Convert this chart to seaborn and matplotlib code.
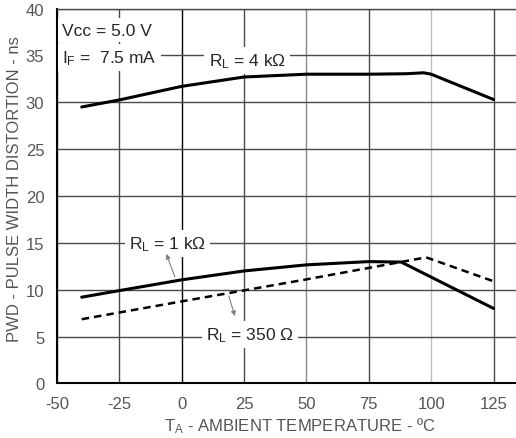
import matplotlib
matplotlib.use("Agg")
import matplotlib.pyplot as plt
import seaborn as sns

# PWD vs ambient temperature, three load resistors
temp_4k = [-40, -25, 0, 25, 50, 75, 90, 97, 100, 125]
pwd_4k = [29.5, 30.25, 31.7, 32.7, 33.0, 33.0, 33.05, 33.15, 33.0, 30.3]

temp_1k = [-40, -25, 0, 25, 50, 75, 88, 125]
pwd_1k = [9.2, 9.9, 11.05, 12.0, 12.65, 13.0, 12.95, 8.0]

temp_350 = [-40, 0, 50, 98, 125]
pwd_350 = [6.85, 8.75, 11.1, 13.45, 10.9]

x_ticks = [-50, -25, 0, 25, 50, 75, 100, 125]
y_ticks = [0, 5, 10, 15, 20, 25, 30, 35, 40]

sns.set_style("white")
plt.rcParams['font.family'] = ['Liberation Sans', 'DejaVu Sans']
plt.rcParams['mathtext.default'] = 'regular'
plt.rcParams['axes.unicode_minus'] = False

fig = plt.figure(figsize=(5.16, 4.39), dpi=100)
ax = fig.add_axes([0.110, 0.1244, 0.89, 0.8537])

sns.lineplot(x=temp_4k, y=pwd_4k, ax=ax, color='black', lw=2.2, zorder=4)
sns.lineplot(x=temp_1k, y=pwd_1k, ax=ax, color='black', lw=2.2, zorder=4)
sns.lineplot(x=temp_350, y=pwd_350, ax=ax, color='black', lw=1.8, zorder=4,
             linestyle=(0, (3, 2)))

ax.set_xlim(-50, 134)
ax.set_ylim(0, 40)
ax.set_xticks(x_ticks)
ax.set_yticks(y_ticks)

# grid, with the odd per-line shades of the original
ax.grid(True, color='#4a4a4a', lw=1.0)
ax.set_axisbelow(True)
vshade = {0: 'black', 50: '#8a8a8a', 100: '#bdbdbd'}
for t, gl in zip(x_ticks, ax.get_xgridlines()):
    gl.set_color(vshade.get(t, '#4a4a4a'))

ax.spines['right'].set_visible(False)
ax.spines['top'].set_color('#4a4a4a')
ax.spines['top'].set_linewidth(1.0)
for s in ['left', 'bottom']:
    ax.spines[s].set_color('black')
    ax.spines[s].set_linewidth(1.5)

ax.tick_params(length=0, labelsize=12, labelcolor='#555555', pad=9)
ax.set_xlabel('T$_A$ - AMBIENT TEMPERATURE - ºC', fontsize=12, color='#555555')
ax.xaxis.set_label_coords(0.53, -0.085)
ax.set_ylabel('PWD - PULSE WIDTH DISTORTION - ns', fontsize=12, color='#555555')
ax.yaxis.set_label_coords(-0.075, 0.52)

box = dict(facecolor='white', edgecolor='none', pad=3)
ax.text(-47.8, 37.7, 'Vcc = 5.0 V', fontsize=12.5, va='center', ha='left', bbox=box, zorder=3)
ax.text(-47.8, 34.8, 'I$_F$ =  7.5 mA', fontsize=12.5, va='center', ha='left', bbox=box, zorder=3)
ax.text(26.3, 34.45, 'R$_L$ = 4 kΩ', fontsize=12.5, va='center', ha='center', bbox=box, zorder=3)
ax.text(-5.7, 14.9, 'R$_L$ = 1 kΩ', fontsize=12.5, va='center', ha='center', bbox=box, zorder=3)
ax.text(27.3, 5.2, 'R$_L$ = 350 Ω', fontsize=12.5, va='center', ha='center', bbox=box, zorder=3)

arrow = dict(arrowstyle='-|>', color='#808080', lw=0.8, mutation_scale=7)
ax.annotate('', xy=(-6.5, 14.1), xytext=(-2.3, 11.1), arrowprops=arrow, zorder=5)
ax.annotate('', xy=(21.7, 6.9), xytext=(18.6, 9.6), arrowprops=arrow, zorder=5)

fig.savefig('out.png', dpi=100)
